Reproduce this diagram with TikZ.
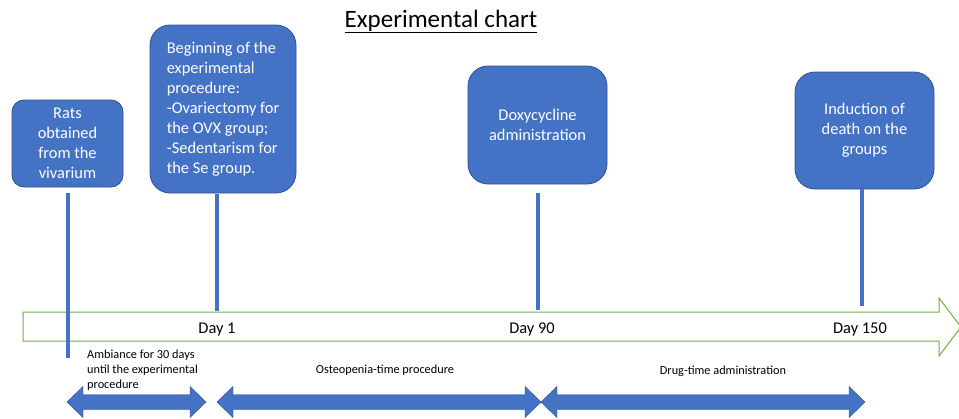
\documentclass[tikz,border=0pt]{standalone}
\usepackage{fontspec}
\setmainfont{Carlito}
\definecolor{boxblue}{HTML}{4472C4}
\definecolor{boxedge}{HTML}{2F528F}
\definecolor{arrowgreen}{HTML}{70AD47}
\newcommand\SpanArrow[2]{%
  \filldraw[span] (#1,402) -- ++(16,-15.5) -- ++(0,8) -- ({#2-16},394.5) -- ++(0,-8)
    -- (#2,402) -- ({#2-16},417.5) -- ++(0,-8) -- ({#1+16},409.5) -- ++(0,8) -- cycle;}
\begin{document}
\begin{tikzpicture}[x=1pt,y=-1pt,
  box/.style={draw=boxedge, fill=boxblue, text=white, line width=0.8pt, inner sep=0pt,
    font=\fontsize{16.4}{20}\selectfont},
  stem/.style={draw=boxblue, line width=4pt},
  lbl/.style={font=\fontsize{16.4}{20}\selectfont, inner sep=0pt, anchor=base},
  small/.style={font=\fontsize{12.3}{15}\selectfont, inner sep=0pt},
  span/.style={fill=boxblue, draw=boxedge, line width=0.4pt}]
\useasboundingbox (0,0) rectangle (959,418);

% title
\node[font=\fontsize{25}{30}\selectfont, inner sep=0pt, anchor=base] (title) at (441,27)
  {\underline{Experimental chart}};

% timeline arrow
\filldraw[draw=arrowgreen, fill=white, line width=1pt]
  (23,312) -- (939,312) -- (939,298) -- (961,327) -- (939,356) -- (939,341) -- (23,341) -- cycle;

% boxes
\node[box, rounded corners=12pt, minimum width=111pt, minimum height=87pt, align=center]
  (b1) at (67.5,143.5) {Rats\\obtained\\from the\\vivarium};
\node[box, rounded corners=20pt, minimum width=146pt, minimum height=168pt, align=left]
  (b2) at (223,109) {Beginning of the\\experimental\\procedure:\\-Ovariectomy for\\the OVX group;\\-Sedentarism for\\the Se group.};
\node[box, rounded corners=20pt, minimum width=139pt, minimum height=118pt, align=center]
  (b3) at (537.5,125) {Doxycycline\\administration};
\node[box, rounded corners=20pt, minimum width=139pt, minimum height=117pt, align=center]
  (b4) at (864.5,130.5) {Induction of\\death on the\\groups};

% stems
\coordinate (t1) at (68,193);  \coordinate (s1) at (68,358);
\coordinate (t2) at (217,194); \coordinate (s2) at (217,311);
\coordinate (t3) at (538,193); \coordinate (s3) at (538,310);
\coordinate (t4) at (862,189); \coordinate (s4) at (862,306);
\draw[stem] (t1) -- (s1);
\draw[stem] (t2) -- (s2);
\draw[stem] (t3) -- (s3);
\draw[stem] (t4) -- (s4);

% day labels
\node[lbl] (d1) at (217,333) {Day 1};
\node[lbl] (d90) at (532,333) {Day 90};
\node[lbl] (d150) at (860,333) {Day 150};

% period labels
\node[small, anchor=north west, align=left] (p1) at (87,349.5)
  {Ambiance for 30 days\\until the experimental\\procedure};
\node[small, anchor=base] (p2) at (385,373) {Osteopenia-time procedure};
\node[small, anchor=base] (p3) at (723,374) {Drug-time administration};

% period arrows
\SpanArrow{67}{206}
\SpanArrow{217}{541}
\SpanArrow{541}{865}
\end{tikzpicture}
\end{document}
